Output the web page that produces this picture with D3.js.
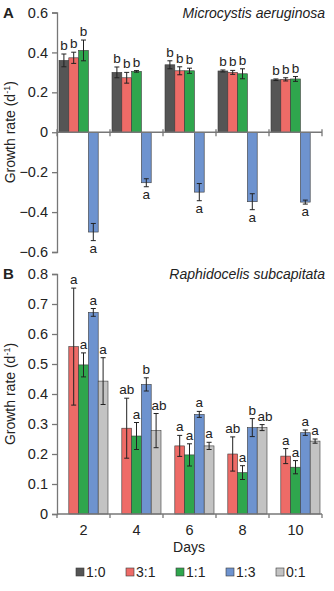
<!DOCTYPE html>
<html>
<head>
<meta charset="utf-8">
<script src="https://cdn.jsdelivr.net/npm/d3@7"></script>
<style>
  body { margin: 0; background: #fff; }
  svg { display: block; font-family: 'Liberation Sans', Arial, sans-serif; }
</style>
</head>
<body>
<div id="chart"></div>
<script>
// categories
let days = ['2', '4', '6', '8', '10'];
let series = ['1:0', '3:1', '1:1', '1:3', '0:1'];
let seriesColors = ['#555555', '#ee6b67', '#2fa64d', '#6e93cf', '#c3c3c3'];

// panel A - Microcystis aeruginosa (null = not drawn)
let a_1_0 = [0.36, 0.30, 0.338, 0.307, 0.263];
let a_3_1 = [0.373, 0.273, 0.308, 0.30, 0.265];
let a_1_1 = [0.41, 0.305, 0.308, 0.293, 0.267];
let a_1_3 = [-0.50, -0.253, -0.30, -0.348, -0.35];
let a_0_1 = [null, null, null, null, null];
let aErr_1_0 = [0.032, 0.027, 0.02, 0.005, 0.004];
let aErr_3_1 = [0.028, 0.027, 0.02, 0.01, 0.008];
let aErr_1_1 = [0.052, 0.004, 0.013, 0.025, 0.012];
let aErr_1_3 = [0.043, 0.02, 0.043, 0.04, 0.01];
let aErr_0_1 = [0, 0, 0, 0, 0];
let aLet_1_0 = ['b', 'b', 'b', 'b', 'b'];
let aLet_3_1 = ['b', 'b', 'b', 'b', 'b'];
let aLet_1_1 = ['b', 'b', 'b', 'b', 'b'];
let aLet_1_3 = ['a', 'a', 'a', 'a', 'a'];
let aLet_0_1 = ['', '', '', '', ''];
let aTicks = [-0.6, -0.4, -0.2, 0, 0.2, 0.4, 0.6];

// panel B - Raphidocelis subcapitata
let b_1_0 = [null, null, null, null, null];
let b_3_1 = [0.558, 0.286, 0.227, 0.20, 0.193];
let b_1_1 = [0.497, 0.26, 0.197, 0.138, 0.156];
let b_1_3 = [0.672, 0.432, 0.332, 0.288, 0.271];
let b_0_1 = [0.443, 0.278, 0.227, 0.288, 0.243];
let bErr_1_0 = [0, 0, 0, 0, 0];
let bErr_3_1 = [0.195, 0.10, 0.035, 0.057, 0.025];
let bErr_1_1 = [0.04, 0.045, 0.037, 0.023, 0.022];
let bErr_1_3 = [0.013, 0.022, 0.01, 0.03, 0.009];
let bErr_0_1 = [0.078, 0.057, 0.012, 0.01, 0.007];
let bLet_1_0 = ['', '', '', '', ''];
let bLet_3_1 = ['a', 'ab', 'a', 'ab', 'a'];
let bLet_1_1 = ['a', 'a', 'a', 'a', 'a'];
let bLet_1_3 = ['a', 'b', 'a', 'b', 'a'];
let bLet_0_1 = ['a', 'ab', 'a', 'ab', 'a'];
let bTicks = [0, 0.1, 0.2, 0.3, 0.4, 0.5, 0.6, 0.7, 0.8];

let W = 334, H = 591;
let svg = d3.select('#chart').append('svg')
    .attr('width', W)
    .attr('height', H);

let x0 = d3.scaleBand().domain(days).range([57, 322]).padding(0);
let x1 = d3.scaleBand().domain(series).range([2, x0.bandwidth() - 2]).padding(0);
let color = d3.scaleOrdinal().domain(series).range(seriesColors);

function buildRows(vals, errs, lets) {
    let rows = [];
    series.forEach(function(s, si) {
        days.forEach(function(d, di) {
            if (vals[si][di] === null) return;
            rows.push({ day: d, s: s, v: vals[si][di], e: errs[si][di], l: lets[si][di] });
        });
    });
    return rows;
}

function drawPanel(opts) {
    let y = d3.scaleLinear().domain(opts.domain).range(opts.range);
    let g = svg.append('g');

    // bars
    let bars = g.selectAll('.bar').data(opts.rows).enter().append('g');
    bars.append('rect')
        .attr('x', function(d) { return x0(d.day) + x1(d.s); })
        .attr('width', x1.bandwidth())
        .attr('y', function(d) { return y(Math.max(0, d.v)); })
        .attr('height', function(d) { return Math.abs(y(d.v) - y(0)); })
        .style('fill', function(d) { return color(d.s); })
        .style('stroke', '#3a3a3a')
        .style('stroke-width', 0.6);

    // error bars
    let cx = function(d) { return x0(d.day) + x1(d.s) + x1.bandwidth() / 2; };
    bars.append('line')
        .attr('x1', cx).attr('x2', cx)
        .attr('y1', function(d) { return y(d.v + d.e); })
        .attr('y2', function(d) { return y(d.v - d.e); })
        .style('stroke', '#222').style('stroke-width', 1);
    bars.append('line')
        .attr('x1', function(d) { return cx(d) - 2.5; })
        .attr('x2', function(d) { return cx(d) + 2.5; })
        .attr('y1', function(d) { return y(d.v + d.e); })
        .attr('y2', function(d) { return y(d.v + d.e); })
        .style('stroke', '#222').style('stroke-width', 1);
    bars.append('line')
        .attr('x1', function(d) { return cx(d) - 2.5; })
        .attr('x2', function(d) { return cx(d) + 2.5; })
        .attr('y1', function(d) { return y(d.v - d.e); })
        .attr('y2', function(d) { return y(d.v - d.e); })
        .style('stroke', '#222').style('stroke-width', 1);

    // significance letters (two-letter labels on the last bar nudged right, as in the figure)
    bars.append('text')
        .attr('x', function(d) {
            return cx(d) + ((d.s === '0:1' && d.l.length > 1) ? 3 : 0);
        })
        .attr('y', function(d) {
            return d.v >= 0 ? y(d.v + d.e) - 4 : y(d.v - d.e) + 12;
        })
        .attr('text-anchor', 'middle')
        .style('font-size', '13.5px')
        .style('fill', '#222')
        .text(function(d) { return d.l; });

    // y axis
    let yAxis = d3.axisLeft(y).tickValues(opts.ticks).tickSize(5).tickPadding(4)
        .tickFormat(function(d) { return d === 0 ? '0' : d3.format('.1f')(d); });
    let ya = g.append('g')
        .attr('transform', 'translate(57,0)')
        .call(yAxis);
    ya.selectAll('text').style('font-size', '14.5px').style('fill', '#222');
    ya.selectAll('line, path').style('stroke', '#777').style('stroke-width', 1.3);

    // x axis at zero
    let xa = g.append('g').attr('transform', 'translate(0,' + y(0) + ')');
    xa.append('line')
        .attr('x1', 57).attr('x2', 322)
        .style('stroke', '#777').style('stroke-width', 1.3);
    let edges = days.map(function(d) { return x0(d); }).concat([x0.range()[1]]);
    xa.selectAll('.xt').data(edges).enter().append('line')
        .attr('x1', function(d) { return d; }).attr('x2', function(d) { return d; })
        .attr('y1', opts.tickUp).attr('y2', 4)
        .style('stroke', '#777').style('stroke-width', 1.3);
    if (opts.showDays) {
        xa.selectAll('.xl').data(days).enter().append('text')
            .attr('x', function(d) { return x0(d) + x0.bandwidth() / 2; })
            .attr('y', 21)
            .attr('text-anchor', 'middle')
            .style('font-size', '14.5px').style('fill', '#222')
            .text(function(d) { return d; });
    }

    // y title
    let mid = (opts.range[0] + opts.range[1]) / 2;
    let t = g.append('text')
        .attr('transform', 'translate(15,' + mid + ') rotate(-90)')
        .attr('text-anchor', 'middle')
        .style('font-size', '14px').style('fill', '#222');
    t.append('tspan').text('Growth rate (d');
    t.append('tspan').attr('dy', -5).style('font-size', '9px').text('-1');
    t.append('tspan').attr('dy', 5).text(')');

    // panel letter & species
    g.append('text')
        .attr('x', 3).attr('y', y(opts.domain[1]) + 5)
        .style('font-size', '15px').style('font-weight', 'bold').style('fill', '#222')
        .text(opts.letter);
    g.append('text')
        .attr('x', 325).attr('y', y(opts.domain[1]) + 5)
        .attr('text-anchor', 'end')
        .style('font-size', '14px').style('font-style', 'italic').style('fill', '#222')
        .text(opts.title);
}

drawPanel({
    rows: buildRows([a_1_0, a_3_1, a_1_1, a_1_3, a_0_1],
        [aErr_1_0, aErr_3_1, aErr_1_1, aErr_1_3, aErr_0_1],
        [aLet_1_0, aLet_3_1, aLet_1_1, aLet_1_3, aLet_0_1]),
    domain: [-0.6, 0.6], range: [252, 12.5], ticks: aTicks,
    letter: 'A', title: 'Microcystis aeruginosa', tickUp: -3, showDays: false
});

drawPanel({
    rows: buildRows([b_1_0, b_3_1, b_1_1, b_1_3, b_0_1],
        [bErr_1_0, bErr_3_1, bErr_1_1, bErr_1_3, bErr_0_1],
        [bLet_1_0, bLet_3_1, bLet_1_1, bLet_1_3, bLet_0_1]),
    domain: [0, 0.8], range: [514, 274], ticks: bTicks,
    letter: 'B', title: 'Raphidocelis subcapitata', tickUp: 0, showDays: true
});

// x title
svg.append('text')
    .attr('x', 189).attr('y', 552)
    .attr('text-anchor', 'middle')
    .style('font-size', '14px').style('fill', '#222')
    .text('Days');

// legend
let legend = svg.append('g').selectAll('.leg').data(series).enter().append('g')
    .attr('transform', function(d, i) { return 'translate(' + (76 + i * 50) + ',568)'; });
legend.append('rect')
    .attr('width', 8).attr('height', 8)
    .style('fill', function(d) { return color(d); })
    .style('stroke', '#3a3a3a').style('stroke-width', 0.6);
legend.append('text')
    .attr('x', 10).attr('y', 9)
    .style('font-size', '14px').style('fill', '#222')
    .text(function(d) { return d; });
</script>
</body>
</html>
